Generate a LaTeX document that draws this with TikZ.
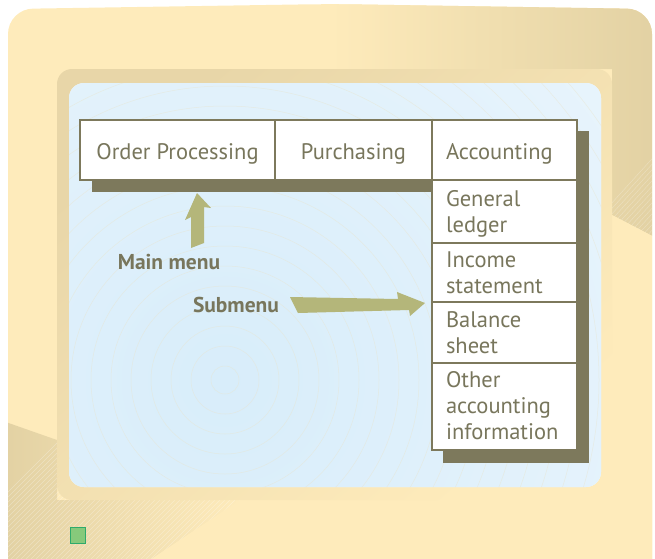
\documentclass[tikz,border=0pt]{standalone}
\usepackage{fontspec}
\setmainfont{PT Sans}
\newfontfamily\menufont{PT Sans}
\definecolor{mlight}{HTML}{FEEBBB}
\definecolor{mdark}{HTML}{E2D1A3}
\definecolor{bezel}{HTML}{E8D6A8}
\definecolor{scrin}{HTML}{D8EDFA}
\definecolor{scrout}{HTML}{F5FAFE}
\definecolor{olive}{HTML}{7D795C}
\definecolor{txt}{HTML}{78765C}
\definecolor{arrowc}{HTML}{B4B67A}
\definecolor{greenf}{HTML}{86C97B}
\definecolor{greenb}{HTML}{2EAA6B}
\definecolor{circc}{HTML}{E9E4CC}
\begin{document}
\begin{tikzpicture}[x=1pt,y=-1pt,
  menubox/.style={draw=olive, line width=1.6pt, fill=white, text=txt, outer sep=0pt,
    font=\menufont\fontsize{22.5}{26}\selectfont, inner sep=0pt, anchor=north west,
    text height=19pt, text depth=0pt},
  subbox/.style={menubox, text width=117pt, inner xsep=14pt, align=left, minimum width=145pt},
  twoline/.style={text depth=30pt},
  threeline/.style={text depth=57pt},
  shadowc/.style={fill=olive},
  blockarrow/.style={fill=arrowc},
  lbl/.style={text=txt, font=\bfseries\fontsize{21.5}{24}\selectfont, inner sep=0pt}]
\useasboundingbox (0,0) rectangle (655,558);
% monitor body
\path[fill=mlight, rounded corners=25pt] (8,600) -- (8,9) -- (330,4) -- (652,9) -- (652,600);
\begin{scope}
  \clip[rounded corners=25pt] (8,600) -- (8,9) -- (330,4) -- (652,9) -- (652,600);
  \shade[left color=mlight, right color=mdark] (330,0) -- (660,0) -- (660,240) -- (612,215) -- (612,69) -- (330,69) -- cycle;
  \shade[left color=mdark, right color=mlight] (0,420) -- (57,440) -- (57,500) -- (240,500) -- (150,560) -- (0,560) -- cycle;
  \foreach \i in {0,5,...,300} {
    \draw[white, opacity=0.3, line width=0.4pt] (560+\i,260) -- (760+\i,40);
    \draw[white, opacity=0.3, line width=0.4pt] (-100+\i,600) -- (60+\i,440);
  }
  \fill[mlight] (612,215) -- (660,240) -- (660,600) -- (612,600) -- cycle;
  \fill[mlight] (150,560) -- (240,500) -- (660,500) -- (660,600) -- cycle;
\end{scope}
% bezel
\shade[rounded corners=15pt, left color=bezel, right color=mlight, shading angle=40] (57,69) rectangle (612,500);
% screen
\fill[scrout, rounded corners=15pt] (69,83) rectangle (601,487);
\begin{scope}
  \clip[rounded corners=15pt] (69,83) rectangle (601,487);
  \shade[inner color=scrin, outer color=scrout] (225,380) circle (900);
  \foreach \r in {14,34,...,560}
    \draw[circc, line width=0.5pt, opacity=0.5] (225,380) circle (\r);
\end{scope}
% shadows
\fill[shadowc] (92,180) rectangle (432,192);
\fill[shadowc] (577,131) rectangle (589,463);
\fill[shadowc] (443,450) rectangle (589,463);
% menu bar
\node[menubox, minimum width=195pt, minimum height=60pt] (op) at (80,120) {Order Processing};
\node[menubox, minimum width=157pt, minimum height=60pt] (pur) at (op.north east) {Purchasing};
\node[subbox, minimum height=60pt] (acc) at (pur.north east) {Accounting};
% submenu
\node[subbox, twoline, minimum height=63pt] (gl) at (acc.south west) {General\\ledger};
\node[subbox, twoline, minimum height=59pt] (inc) at (gl.south west) {Income\\statement};
\node[subbox, twoline, minimum height=61pt] (bal) at (inc.south west) {Balance\\sheet};
\node[subbox, threeline, minimum height=87pt] (oth) at (bal.south west) {Other\\accounting\\information};
% labels
\node[lbl] (mm) at (169,262) {Main menu};
\node[lbl] (sm) at (236,305) {Submenu};
% block arrows
\fill[blockarrow] (191,248) -- (191,217) -- (185,220) -- (197,193) -- (211,208) -- (204,207) -- (204,243) -- cycle;
\fill[blockarrow] (290,297) -- (398,299) -- (397,292) -- (425,303) -- (410,316) -- (409,310) -- (298,313) -- cycle;
% power light
\node[draw=greenb, fill=greenf, line width=1pt, minimum width=15pt, minimum height=16pt, inner sep=0pt, anchor=north west] (led) at (70,527) {};
\end{tikzpicture}
\end{document}
